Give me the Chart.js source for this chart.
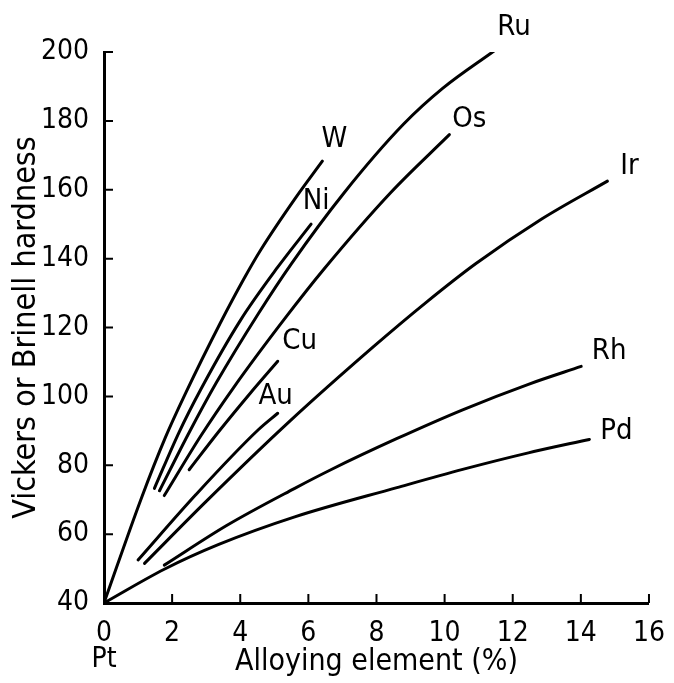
<!DOCTYPE html>
<html>
<head>
<meta charset="utf-8">
<script src="https://cdn.jsdelivr.net/npm/chart.js@4.4.1/dist/chart.umd.min.js"></script>
<style>
  html, body { margin: 0; padding: 0; background: #fff; }
</style>
</head>
<body>
<canvas id="chart" width="674" height="683"></canvas>
<script>
// Hardness of platinum alloys vs. content of alloying element

const xTicks = [0, 2, 4, 6, 8, 10, 12, 14, 16];
const yTicks = [40, 60, 80, 100, 120, 140, 160, 180, 200];

const wX = [0, 1.1, 1.8, 2.4, 3.4, 4.1, 4.6, 5.65, 6.41];
const wY = [40, 70.5, 88, 101, 121, 134, 142.5, 158, 168.3];

const niX = [1.48, 2.2, 2.84, 4.0, 5.1, 6.08];
const niY = [73.3, 89.5, 102, 122, 137.5, 150];

const ruX = [1.63, 2.5, 3.3, 4.53, 5.5, 7.04, 8.79, 9.95, 11.45];
const ruY = [72.6, 89.5, 104, 124, 138.5, 159, 179, 189.5, 200.3];

const osX = [1.77, 2.84, 3.8, 5.3, 6.46, 8.4, 10.14];
const osY = [71.2, 88.5, 102.5, 122.5, 137, 159, 176];

const cuX = [2.5, 3.37, 4.3, 5.1];
const cuY = [78.7, 89.8, 101, 110.2];

const auX = [1.0, 2.7, 4.53, 5.1];
const auY = [52.5, 71.5, 90.3, 95.1];

const irX = [1.19, 3.0, 5.4, 7.92, 9.46, 10.91, 12.85, 14.78];
const irY = [51.5, 69.5, 92.3, 114.5, 127.3, 138.5, 151.5, 162.5];

const rhX = [1.77, 3.6, 5.6, 6.66, 8.59, 10.53, 12.46, 14.01];
const rhY = [51, 62.5, 73.3, 78.7, 87.7, 96.1, 103.5, 108.7];

const pdX = [0, 1.77, 3.37, 5.6, 8.6, 10.53, 12.46, 14.25];
const pdY = [40, 49.8, 57, 65, 73.5, 78.8, 83.6, 87.5];

const curves = [
  ['W', wX, wY], ['Ni', niX, niY], ['Ru', ruX, ruY], ['Os', osX, osY],
  ['Cu', cuX, cuY], ['Au', auX, auY], ['Ir', irX, irY], ['Rh', rhX, rhY],
  ['Pd', pdX, pdY]
];

// where each element name sits relative to the end of its curve (px)
const labelOffsets = {
  W: [12, -22], Ni: [5, -23], Ru: [20, -23], Os: [20, -15], Cu: [22, -20],
  Au: [-2, -17], Ir: [22, -15], Rh: [28, -15], Pd: [27, -8]
};

const FONT = "'DejaVu Sans Condensed', 'DejaVu Sans', sans-serif";

const datasets = curves.map(([name, xs, ys]) => ({
  label: name,
  data: xs.map((x, i) => ({ x, y: ys[i] })),
  showLine: true,
  borderColor: '#000',
  borderWidth: 3,
  pointRadius: 0,
  cubicInterpolationMode: 'monotone',
  borderCapStyle: 'round',
  fill: false
}));

// short tick marks pointing into the plot
const innerTicks = {
  id: 'innerTicks',
  afterDraw(chart) {
    const { ctx, scales: { x, y } } = chart;
    ctx.save();
    ctx.strokeStyle = '#000';
    ctx.lineWidth = 2;
    ctx.beginPath();
    xTicks.forEach(v => {
      if (v === 0) return;
      const px = x.getPixelForValue(v);
      ctx.moveTo(px, y.bottom);
      ctx.lineTo(px, y.bottom - 9);
    });
    yTicks.forEach(v => {
      if (v === 40) return;
      const py = y.getPixelForValue(v);
      ctx.moveTo(x.left, py);
      ctx.lineTo(x.left + 9, py);
    });
    ctx.stroke();
    ctx.restore();
  }
};

const curveLabels = {
  id: 'curveLabels',
  afterDatasetsDraw(chart) {
    const { ctx } = chart;
    ctx.save();
    ctx.fillStyle = '#000';
    ctx.font = '29px ' + FONT;
    ctx.textAlign = 'center';
    ctx.textBaseline = 'middle';
    chart.data.datasets.forEach((ds, i) => {
      const pts = chart.getDatasetMeta(i).data;
      const end = pts[pts.length - 1];
      const off = labelOffsets[ds.label];
      ctx.fillText(ds.label, end.x + off[0], end.y + off[1]);
    });
    ctx.restore();
  }
};

new Chart(document.getElementById('chart'), {
  type: 'scatter',
  data: { datasets },
  options: {
    responsive: false,
    animation: false,
    layout: { padding: { top: 52, right: 19, left: 0, bottom: 0 } },
    plugins: { legend: { display: false }, tooltip: { enabled: false } },
    scales: {
      x: {
        type: 'linear',
        min: 0,
        max: 16,
        afterFit: s => { s.height = 80; },
        afterBuildTicks: s => { s.ticks = xTicks.map(v => ({ value: v })); },
        grid: { display: false },
        border: { display: true, color: '#000', width: 3 },
        ticks: {
          color: '#000',
          padding: 9,
          maxRotation: 0,
          font: { family: FONT, size: 28, lineHeight: 0.95 },
          callback: v => v === 0 ? ['0', 'Pt'] : String(v)
        },
        title: {
          display: true,
          text: 'Alloying element (%)',
          color: '#000',
          font: { family: FONT, size: 30, lineHeight: 1.2 },
          padding: { top: 0, bottom: 3 }
        }
      },
      y: {
        type: 'linear',
        min: 40,
        max: 200,
        afterFit: s => { s.width = 104; },
        afterBuildTicks: s => { s.ticks = yTicks.map(v => ({ value: v })); },
        grid: { display: false },
        border: { display: true, color: '#000', width: 3 },
        ticks: {
          color: '#000',
          padding: 7,
          font: { family: FONT, size: 28 }
        },
        title: {
          display: true,
          text: 'Vickers or Brinell hardness',
          color: '#000',
          font: { family: FONT, size: 32, lineHeight: 1.2 },
          padding: { top: 7, bottom: 0 }
        }
      }
    }
  },
  plugins: [innerTicks, curveLabels]
});
</script>
</body>
</html>
